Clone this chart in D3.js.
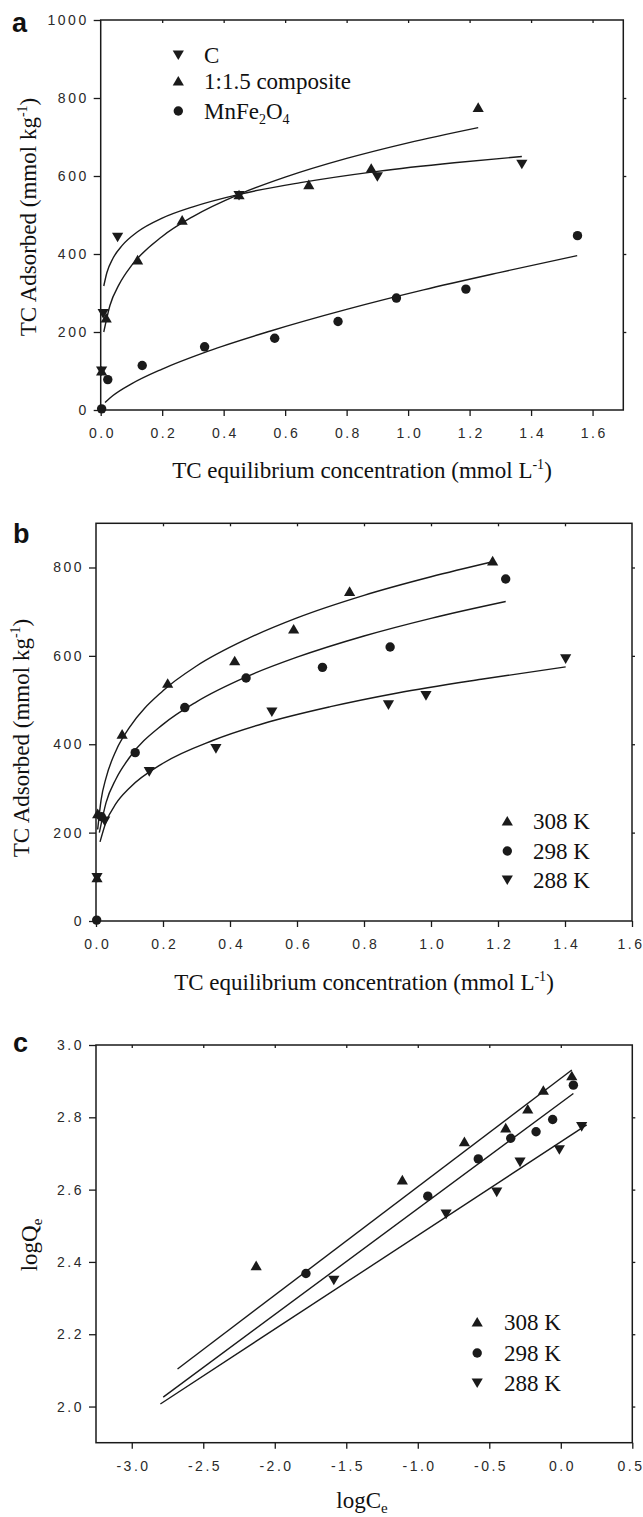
<!DOCTYPE html>
<html><head><meta charset="utf-8">
<script src="https://cdn.jsdelivr.net/npm/d3@7"></script>
<style>body{margin:0;background:#fff}svg{display:block}</style>
</head><body>
<svg id="chart" width="643" height="1517"></svg>
<script>
// ---------------- Panel a data ----------------
const aTicksX = [0.0,0.2,0.4,0.6,0.8,1.0,1.2,1.4,1.6];
const aTicksY = [0,200,400,600,800,1000];
const aC_x = [0.003,0.008,0.055,0.45,0.90,1.37];
const aC_y = [100,247,443,550,598,630];
const aComp_x = [0.003,0.018,0.12,0.265,0.45,0.677,0.88,1.228];
const aComp_y = [100,236,385,487,552,578,620,776];
const aMn_x = [0.003,0.023,0.135,0.338,0.566,0.772,0.962,1.188,1.551];
const aMn_y = [3,78,114,162,184,227,287,310,447];
const aCfit_x = [0.01,0.02,0.04,0.07,0.12,0.2,0.3,0.45,0.65,0.9,1.15,1.37];
const aCfit_y = [318,352,389,422,457,492,521,553,583,612,634,650];
const aCompfit_x = [0.01,0.03,0.06,0.1,0.2,0.3,0.45,0.6,0.8,1.0,1.228];
const aCompfit_y = [200,268,322,370,445,496,553,597,645,685,724];
const aMnfit_x = [0.014,0.04,0.1,0.2,0.35,0.55,0.8,1.05,1.3,1.55];
const aMnfit_y = [19,37,67,105,151,202,258,308,353,396];

// ---------------- Panel b data ----------------
const bTicksX = [0.0,0.2,0.4,0.6,0.8,1.0,1.2,1.4,1.6];
const bTicksY = [0,200,400,600,800];
const b308_x = [0.003,0.005,0.078,0.214,0.414,0.59,0.757,1.184];
const b308_y = [98,243,423,538,589,661,746,815];
const b298_x = [0.002,0.016,0.117,0.265,0.448,0.676,0.878,1.223];
const b298_y = [2,236,381,483,550,574,620,774];
const b288_x = [0.003,0.026,0.159,0.358,0.525,0.873,0.985,1.402];
const b288_y = [98,226,338,390,473,489,510,593];
const b308fit_x = [0.005,0.015,0.03,0.06,0.1,0.2,0.3,0.45,0.6,0.8,1.0,1.184];
const b308fit_y = [207,273,324,386,438,521,577,638,686,737,779,813];
const b298fit_x = [0.01,0.03,0.06,0.1,0.2,0.3,0.45,0.6,0.8,1.0,1.223];
const b298fit_y = [200,268,322,370,445,496,553,597,645,685,723];
const b288fit_x = [0.012,0.03,0.06,0.1,0.2,0.35,0.5,0.7,0.9,1.15,1.402];
const b288fit_y = [179,224,266,301,357,409,447,485,516,547,575];

// ---------------- Panel c data ----------------
const cTicksX = [-3.0,-2.5,-2.0,-1.5,-1.0,-0.5,0.0,0.5];
const cTicksY = [2.0,2.2,2.4,2.6,2.8,3.0];
const c308_x = [-2.13,-1.108,-0.674,-0.385,-0.231,-0.122,0.077];
const c308_y = [2.39,2.627,2.733,2.771,2.823,2.875,2.915];
const c298_x = [-1.782,-0.930,-0.577,-0.350,-0.173,-0.057,0.088];
const c298_y = [2.368,2.582,2.685,2.742,2.760,2.794,2.889];
const c288_x = [-1.587,-0.802,-0.448,-0.285,-0.010,0.146];
const c288_y = [2.349,2.532,2.593,2.676,2.710,2.774];
const c308fit_x = [-2.68,0.077];
const c308fit_y = [2.104,2.931];
const c298fit_x = [-2.78,0.088];
const c298fit_y = [2.026,2.866];
const c288fit_x = [-2.80,0.181];
const c288fit_y = [2.007,2.779];

// ---------------- drawing ----------------
const SERIF = '"Liberation Serif","Times New Roman",serif';
const SANS = '"Liberation Sans",Arial,Helvetica,sans-serif';
const INK = '#1a1a1a';
const TICKFS = 14, LS = 2.5;
const W = 643;
const svg = d3.select('#chart');

function zip(xs, ys){ return xs.map((v,i)=>[v, ys[i]]); }

function marker(g, type, cx, cy){
  if(type==='circle'){
    g.append('circle').attr('cx',cx).attr('cy',cy).attr('r',4.7).attr('fill',INK);
  } else if(type==='up'){
    g.append('path').attr('d',`M${cx},${cy-5} L${cx+5.6},${cy+4.6} L${cx-5.6},${cy+4.6} Z`).attr('fill',INK);
  } else {
    g.append('path').attr('d',`M${cx},${cy+5} L${cx+5.6},${cy-4.6} L${cx-5.6},${cy-4.6} Z`).attr('fill',INK);
  }
}

function panel(cfg){
  const g = svg.append('g');
  const x = d3.scaleLinear().domain(cfg.xDomain).range([cfg.left, cfg.right]);
  const y = d3.scaleLinear().domain(cfg.yDomain).range([cfg.bottom, cfg.top]);

  const gx = g.append('g').attr('transform',`translate(0,${cfg.bottom})`)
    .call(d3.axisBottom(x).tickValues(cfg.xTicks).tickSize(6).tickSizeOuter(0).tickPadding(12).tickFormat(cfg.xFmt));
  const gy = g.append('g').attr('transform',`translate(${cfg.left},0)`)
    .call(d3.axisLeft(y).tickValues(cfg.yTicks).tickSize(7).tickSizeOuter(0).tickPadding(7.5).tickFormat(cfg.yFmt));
  const gt = g.append('g').attr('transform',`translate(0,${cfg.top})`)
    .call(d3.axisTop(x).tickValues(cfg.xTicks.filter(v=>v>cfg.xDomain[0] && v<cfg.xDomain[1])).tickSize(-3).tickSizeOuter(0).tickFormat(''));
  const gr = g.append('g').attr('transform',`translate(${cfg.right},0)`)
    .call(d3.axisRight(y).tickValues(cfg.yTicks.filter(v=>v>cfg.yDomain[0] && v<cfg.yDomain[1])).tickSize(3).tickSizeOuter(0).tickFormat(''));
  [gx,gy,gt,gr].forEach(a=>{
    a.select('.domain').remove();
    a.selectAll('line').attr('stroke',INK).attr('stroke-width',1.3);
    a.selectAll('text').attr('font-family',SANS).attr('font-size',TICKFS)
      .attr('letter-spacing',LS).attr('fill','#2a2a2a');
  });
  gx.selectAll('text').attr('dx', LS/2);
  gy.selectAll('text').attr('dx', LS);
  // keep edge labels inside the page
  gx.selectAll('.tick').each(function(d){
    const tx = x(d);
    const t = d3.select(this).select('text');
    const bb = t.node().getBBox();
    const rightEdge = tx + bb.x + bb.width - LS;
    if(rightEdge > W - 1.5){
      t.attr('dx', LS/2 - (rightEdge - (W - 1.5)));
    }
  });

  g.append('rect').attr('x',cfg.left).attr('y',cfg.top)
    .attr('width',cfg.right-cfg.left).attr('height',cfg.bottom-cfg.top)
    .attr('fill','none').attr('stroke',INK).attr('stroke-width',1.5);

  const line = d3.line().x(d=>x(d[0])).y(d=>y(d[1])).curve(d3.curveMonotoneX);
  cfg.fits.forEach(f=>{
    g.append('path').datum(zip(f[0],f[1])).attr('d',line)
      .attr('fill','none').attr('stroke',INK).attr('stroke-width',1.4);
  });
  cfg.series.forEach(s=>{
    zip(s.x, s.y).forEach(p=>marker(g, s.type, x(p[0]), y(p[1])));
  });
  return {g,x,y};
}

const f1 = d=>d.toFixed(1);
const f0 = d=>d3.format('d')(d);

panel({left:100.7,right:623.3,top:20,bottom:410,
  xDomain:[0,1.7], yDomain:[0,1000], xTicks:aTicksX, yTicks:aTicksY, xFmt:f1, yFmt:f0,
  fits:[[aCfit_x,aCfit_y],[aCompfit_x,aCompfit_y],[aMnfit_x,aMnfit_y]],
  series:[{x:aC_x,y:aC_y,type:'down'},{x:aComp_x,y:aComp_y,type:'up'},{x:aMn_x,y:aMn_y,type:'circle'}]});

panel({left:96,right:632,top:523.3,bottom:921,
  xDomain:[0,1.6], yDomain:[0,900], xTicks:bTicksX, yTicks:bTicksY, xFmt:f1, yFmt:f0,
  fits:[[b308fit_x,b308fit_y],[b298fit_x,b298fit_y],[b288fit_x,b288fit_y]],
  series:[{x:b308_x,y:b308_y,type:'up'},{x:b298_x,y:b298_y,type:'circle'},{x:b288_x,y:b288_y,type:'down'}]});

panel({left:96,right:632.3,top:1045,bottom:1442.7,
  xDomain:[-3.25,0.5], yDomain:[1.9,3.0], xTicks:cTicksX, yTicks:cTicksY, xFmt:f1, yFmt:f1,
  fits:[[c308fit_x,c308fit_y],[c298fit_x,c298fit_y],[c288fit_x,c288fit_y]],
  series:[{x:c308_x,y:c308_y,type:'up'},{x:c298_x,y:c298_y,type:'circle'},{x:c288_x,y:c288_y,type:'down'}]});

// ---------------- text ----------------
function label(txt, x, y){
  svg.append('text').attr('x',x).attr('y',y).text(txt)
    .attr('font-family',SANS).attr('font-weight','bold').attr('font-size',27).attr('fill','#111');
}
label('a',12,32); label('b',13,543); label('c',13,1052);

function xTitle(cx, by){
  const t = svg.append('text').attr('x',cx).attr('y',by).attr('text-anchor','middle')
    .attr('font-family',SERIF).attr('font-size',23).attr('fill','#111');
  t.append('tspan').text('TC equilibrium concentration (mmol L');
  t.append('tspan').text('-1').attr('font-size',14).attr('dy',-9);
  t.append('tspan').text(')').attr('dy',9);
}
xTitle(362, 478);
xTitle(364, 990);

function yTitle(bx, cy){
  const t = svg.append('text').attr('transform',`translate(${bx},${cy}) rotate(-90)`)
    .attr('text-anchor','middle').attr('font-family',SERIF).attr('font-size',23).attr('fill','#111');
  t.append('tspan').text('TC Adsorbed (mmol kg');
  t.append('tspan').text('-1').attr('font-size',14).attr('dy',-9);
  t.append('tspan').text(')').attr('dy',9);
}
yTitle(36, 217);
yTitle(29, 738);

(function(){
  const t = svg.append('text').attr('transform','translate(37,1245) rotate(-90)')
    .attr('text-anchor','middle').attr('font-family',SERIF).attr('font-size',23).attr('fill','#111');
  t.append('tspan').text('logQ');
  t.append('tspan').text('e').attr('font-size',15).attr('dy',5);
  const u = svg.append('text').attr('x',362).attr('y',1508).attr('text-anchor','middle')
    .attr('font-family',SERIF).attr('font-size',23).attr('fill','#111');
  u.append('tspan').text('logC');
  u.append('tspan').text('e').attr('font-size',15).attr('dy',5);
})();

function legend(items, mx, tx, ys, fs){
  items.forEach((it,i)=>{
    marker(svg, it.type, mx, ys[i]);
    const t = svg.append('text').attr('x',tx).attr('y',ys[i]+8)
      .attr('font-family',SERIF).attr('font-size',fs).attr('fill','#111');
    it.parts.forEach(p=>{
      const s = t.append('tspan').text(p.t);
      if(p.sub){ s.attr('font-size',14).attr('dy',p.dy); }
      else if(p.dy){ s.attr('dy',p.dy); }
    });
  });
}
legend([
  {type:'down', parts:[{t:'C'}]},
  {type:'up', parts:[{t:'1:1.5 composite'}]},
  {type:'circle', parts:[{t:'MnFe'},{t:'2',sub:true,dy:5},{t:'O',dy:-5},{t:'4',sub:true,dy:5}]}
], 178.3, 204, [55,81,111], 23);

const tempItems = [
  {type:'up', parts:[{t:'308 K'}]},
  {type:'circle', parts:[{t:'298 K'}]},
  {type:'down', parts:[{t:'288 K'}]}
];
legend(tempItems, 507.3, 533, [821,851,880], 23);
legend(tempItems, 477.2, 504, [1322,1353,1383], 23);
</script>
</body></html>
